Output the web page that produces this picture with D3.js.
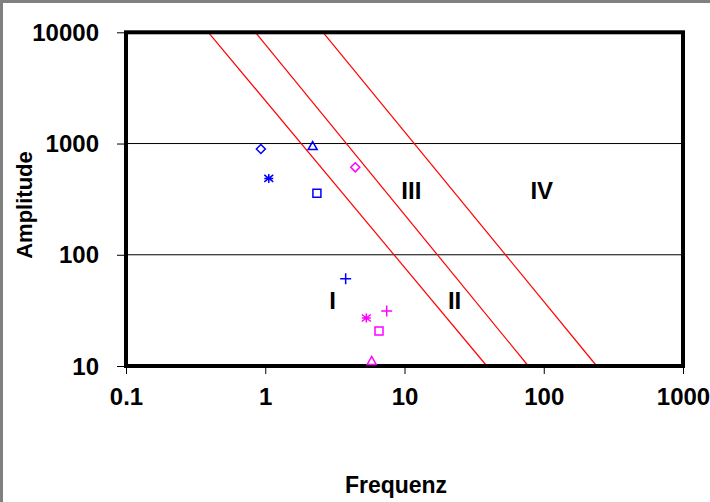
<!DOCTYPE html>
<html>
<head>
<meta charset="utf-8">
<script src="https://cdn.jsdelivr.net/npm/d3@7"></script>
<style>
  body { margin: 0; background: #fff; }
  svg text { font-family: "Liberation Sans", Arial, sans-serif; font-weight: bold; fill: #000; }
</style>
</head>
<body>
<div id="chart"></div>
<script>
// achsen
const xTicks = [0.1, 1, 10, 100, 1000];
const yTicks = [10, 100, 1000, 10000];
const gridAmp = [100, 1000];

// rote grenzlinien: frequenz bei amplitude 10000 (oben) und 10 (unten)
const lineTopAmp = 10000;
const lineBottomAmp = 10;
const lineTopFreq = [0.39, 0.85, 2.6];
const lineBottomFreq = [39, 77.5, 240];

// messpunkte
const symbols = ['diamond', 'star', 'triangle', 'square', 'plus'];
const blueFreq = [0.93, 1.06, 2.19, 2.35, 3.78];
const blueAmp = [893, 486, 949, 357, 61];
const magentaFreq = [4.43, 5.32, 5.81, 6.56, 7.45];
const magentaAmp = [611, 27, 11.1, 20.6, 31.2];

// bereiche
const regionNames = ['I', 'II', 'III', 'IV'];
const regionFreq = [3.05, 22.9, 11.2, 96.7];
const regionAmp = [38.8, 38.8, 383, 383];

const width = 710, height = 502;
const plot = { left: 126, right: 683, top: 32.3, bottom: 366 };

const svg = d3.select('#chart').append('svg')
    .attr('width', width)
    .attr('height', height);

// grauer rahmen oben / links
svg.append('rect').attr('x', 0).attr('y', 0).attr('width', width).attr('height', 3).attr('fill', '#808080');
svg.append('rect').attr('x', 0).attr('y', 0).attr('width', 3).attr('height', height).attr('fill', '#808080');

const x = d3.scaleLog().domain([0.1, 1000]).range([plot.left, plot.right]);
const y = d3.scaleLog().domain([10, 10000]).range([plot.bottom, plot.top]);

// gitterlinien
svg.append('g').selectAll('line')
    .data(gridAmp)
    .enter().append('line')
    .attr('x1', plot.left).attr('x2', plot.right)
    .attr('y1', d => y(d)).attr('y2', d => y(d))
    .attr('stroke', '#000').attr('stroke-width', 1);

// achsen mit ticks
const fmt = d => String(d);
svg.append('g')
    .attr('transform', `translate(${plot.left},0)`)
    .call(d3.axisLeft(y).tickValues(yTicks).tickFormat(fmt).tickSize(9).tickPadding(18))
    .call(g => g.select('.domain').remove())
    .call(g => g.selectAll('line').attr('stroke', '#000'))
    .call(g => g.selectAll('text').style('font-size', '24px').attr('dy', '0.34em'));

svg.append('g')
    .attr('transform', `translate(0,${plot.bottom})`)
    .call(d3.axisBottom(x).tickValues(xTicks).tickFormat(fmt).tickSize(8).tickPadding(14))
    .call(g => g.select('.domain').remove())
    .call(g => g.selectAll('line').attr('stroke', '#000'))
    .call(g => g.selectAll('text').style('font-size', '24px'));

// rote linien
const lineData = lineTopFreq.map((f, i) => [[f, lineTopAmp], [lineBottomFreq[i], lineBottomAmp]]);
const lineGen = d3.line().x(d => x(d[0])).y(d => y(d[1]));
svg.append('g').selectAll('path')
    .data(lineData)
    .enter().append('path')
    .attr('d', lineGen)
    .attr('fill', 'none')
    .attr('stroke', '#ff0000')
    .attr('stroke-width', 1.2);

// rahmen des diagramms
svg.append('rect')
    .attr('x', plot.left).attr('y', plot.top)
    .attr('width', plot.right - plot.left).attr('height', plot.bottom - plot.top)
    .attr('fill', 'none').attr('stroke', '#000').attr('stroke-width', 4);

// marker
function markerPath(type) {
    const s = 4.5;
    switch (type) {
        case 'diamond': return `M0,${-s}L${s},0L0,${s}L${-s},0Z`;
        case 'triangle': return `M0,${-s}L${s},${s - 1}L${-s},${s - 1}Z`;
        case 'square': return `M${-s + 0.5},${-s + 0.5}H${s - 0.5}V${s - 0.5}H${-s + 0.5}Z`;
        case 'plus': return `M${-s - 1},0H${s + 1}M0,${-s - 1}V${s + 1}`;
        case 'star': return `M0,${-s}V${s}M${-s},${-s + 1}L${s},${s - 1}M${-s},${s - 1}L${s},${-s + 1}M${-s},0H${s}`;
    }
}

function drawSeries(freq, amp, color) {
    svg.append('g').selectAll('path')
        .data(freq.map((f, i) => ({ f: f, a: amp[i], sym: symbols[i] })))
        .enter().append('path')
        .attr('transform', d => `translate(${x(d.f)},${y(d.a)})`)
        .attr('d', d => markerPath(d.sym))
        .attr('fill', 'none')
        .attr('stroke', color)
        .attr('stroke-width', 1.5);
}
drawSeries(blueFreq, blueAmp, '#0000ff');
drawSeries(magentaFreq, magentaAmp, '#ff00ff');

// bereichsbeschriftung
svg.append('g').selectAll('text')
    .data(regionNames)
    .enter().append('text')
    .attr('x', (d, i) => x(regionFreq[i]))
    .attr('y', (d, i) => y(regionAmp[i]))
    .attr('dy', '0.36em')
    .attr('text-anchor', 'middle')
    .style('font-size', '24px')
    .text(d => d);

// achsentitel
svg.append('text')
    .attr('x', 396)
    .attr('y', 493)
    .attr('text-anchor', 'middle')
    .style('font-size', '23px')
    .text('Frequenz');

svg.append('text')
    .attr('transform', 'translate(32,205) rotate(-90)')
    .attr('text-anchor', 'middle')
    .style('font-size', '22px')
    .text('Amplitude');
</script>
</body>
</html>
